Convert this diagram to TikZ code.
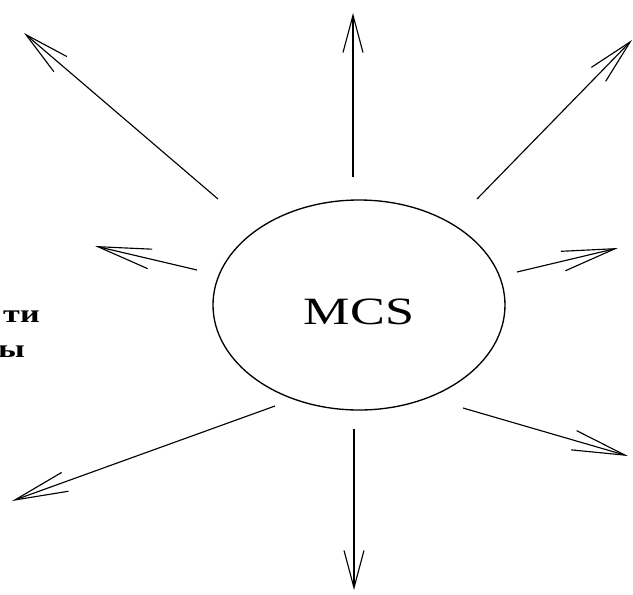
\documentclass[tikz,border=0pt]{standalone}
\usepackage{fontspec}
\setmainfont{Liberation Serif}
\usepackage{graphicx}
\usepackage{tikz}
\usetikzlibrary{arrows.meta,shapes.geometric}
\tikzset{
  hub/.style={
    ellipse,draw=black,line width=1pt,
    minimum width=219pt,minimum height=157.5pt,inner sep=0pt,
    text height=29pt,font=\fontsize{29}{30}\selectfont
  },
  spoke/.style={line width=0.85pt,draw=black,-{Straight Barb[length=#1,width=15pt]}},
  spoke/.default=40pt,
  side/.style={inner sep=0pt,font=\bfseries\fontsize{19}{22}\selectfont}
}

\begin{document}
\begin{tikzpicture}[x=0.75pt,y=-0.75pt]
  \useasboundingbox (0,0) rectangle (633,594);
  \node[hub] (mcs) at (359,305) {\scalebox{1.35}[1]{MCS}};
  \node[side,anchor=base east] (lineA) at (40,322) {\scalebox{1.35}[1]{ти}};
  \node[side,anchor=base east] (lineB) at (25,357) {\scalebox{1.35}[1]{ы}};
  % ends of the spokes
  \coordinate (upS) at (353,177);   \coordinate (upE) at (353,13);
  \coordinate (dnS) at (354,429);   \coordinate (dnE) at (354,590);
  \coordinate (ulS) at (218,199);   \coordinate (ulE) at (24,33);
  \coordinate (urS) at (477,199);   \coordinate (urE) at (632,40);
  \coordinate (lfS) at (197,270);   \coordinate (lfE) at (95,246);
  \coordinate (rtS) at (517,272);   \coordinate (rtE) at (618,248);
  \coordinate (llS) at (275,406);   \coordinate (llE) at (12,501);
  \coordinate (lrS) at (463,408);   \coordinate (lrE) at (628,456);
  \draw[spoke=28pt] (upS) -- (upE);
  \draw[spoke=28pt] (dnS) -- (dnE);
  \draw[spoke=34pt] (ulS) -- (ulE);
  \draw[spoke=34pt] (urS) -- (urE);
  \draw[spoke] (lfS) -- (lfE);
  \draw[spoke] (rtS) -- (rtE);
  \draw[spoke] (llS) -- (llE);
  \draw[spoke] (lrS) -- (lrE);
\end{tikzpicture}
\end{document}
